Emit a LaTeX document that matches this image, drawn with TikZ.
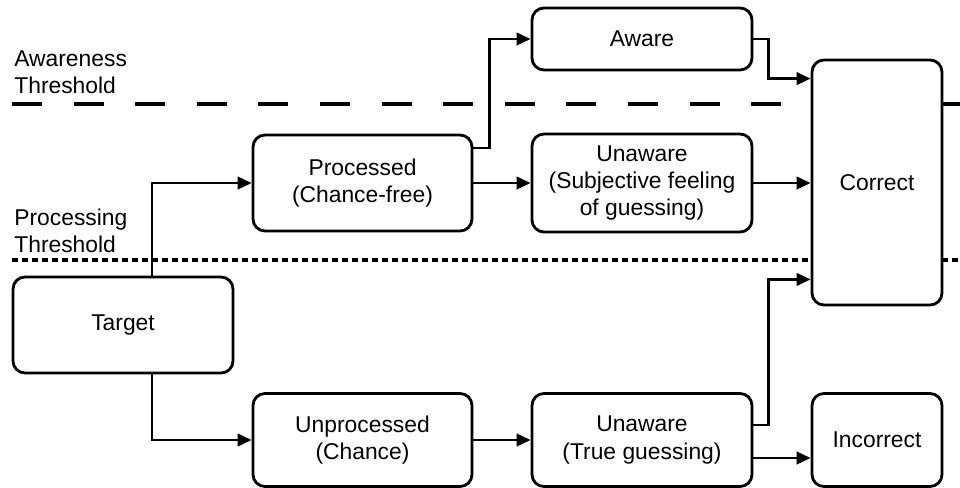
\documentclass[tikz,border=0pt]{standalone}
\usepackage{fontspec}
\setmainfont{Liberation Sans}
\usepackage{tikz}
\usetikzlibrary{arrows.meta}
\tikzstyle{box} = [rectangle, draw=black, fill=white, line width=1.6pt, rounded corners=0.24cm, minimum height=1.92cm, minimum width=4.4cm, text centered, align=center, inner sep=0pt]
\tikzstyle{arw} = [line width=1.5pt, -{Triangle[length=0.28cm,width=0.25cm]}]
\tikzstyle{thr} = [align=left, anchor=north west, inner sep=0pt]

\begin{document}
\begin{tikzpicture}[font=\fontsize{13}{15.4}\selectfont]

            \useasboundingbox (0,0) rectangle (19.2,9.76);

            %% thresholds
            \draw [line width=2.3pt, dash pattern=on 0.6cm off 0.632cm] (0.24,7.68) -- (19.2,7.68);
            \draw [line width=1.8pt, dash pattern=on 0.12cm off 0.08cm] (0.24,4.56) -- (19.2,4.56);

            \node (awth) [thr] at (0.28,8.76) {Awareness\\Threshold};
            \node (prth) [thr] at (0.28,5.58) {Processing\\Threshold};

            %% boxes
            \node (target) [box] at (2.46,3.26) {Target};
            \node (proc) [box, minimum width=4.38cm] at (7.25,6.10) {Processed\\(Chance-free)};
            \node (unproc) [box, minimum width=4.38cm, minimum height=1.86cm] at (7.25,0.96) {Unprocessed\\(Chance)};
            \node (aware) [box, minimum height=1.24cm] at (12.84,8.98) {Aware};
            \node (unawsub) [box, minimum height=1.96cm] at (12.84,6.10) {Unaware\\(Subjective feeling\\of guessing)};
            \node (unawtrue) [box, minimum height=1.86cm] at (12.84,0.96) {Unaware\\(True guessing)};
            \node (correct) [box, minimum width=2.6cm, minimum height=4.9cm] at (17.54,6.11) {Correct};
            \node (incorrect) [box, minimum width=2.6cm, minimum height=1.86cm] at (17.54,0.96) {Incorrect};

            %% arrows
            \draw [arw] ([xshift=0.58cm]target.north) |- (proc.west);
            \draw [arw] ([xshift=0.58cm]target.south) |- (unproc.west);

            \draw [arw] ([yshift=0.7cm]proc.east) -- ++(0.32,0) |- (aware.west);
            \draw [arw] (proc.east) -- (unawsub.west);
            \draw [arw] (unproc.east) -- (unawtrue.west);

            \draw [arw] (aware.east) -- ++(0.3,0) |- ([yshift=-0.4cm]correct.north west);
            \draw [arw] (unawsub.east) -- (unawsub.east -| correct.west);
            \draw [arw] ([yshift=0.3cm]unawtrue.east) -- ++(0.3,0) |- ([yshift=0.54cm]correct.south west);
            \draw [arw] ([yshift=-0.36cm]unawtrue.east) -- ([yshift=-0.36cm]incorrect.west);

        \end{tikzpicture}
\end{document}
